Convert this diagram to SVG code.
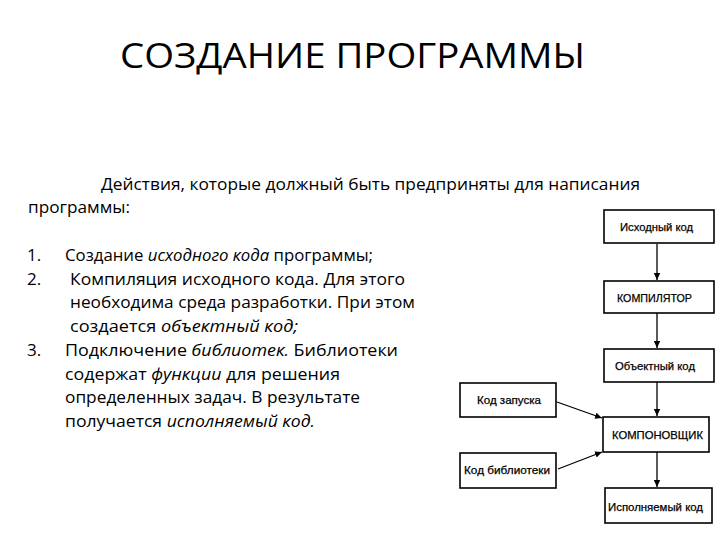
<svg xmlns="http://www.w3.org/2000/svg" width="720" height="540" viewBox="0 0 720 540">
<defs>
<marker id="ah" markerWidth="8" markerHeight="9" refX="7" refY="4" orient="auto" markerUnits="userSpaceOnUse">
<path d="M0,0.8 L7,4 L0,7.2 Z" fill="#000"/>
</marker>
<style>
.t{font-family:"Open Sans","Liberation Sans",sans-serif;fill:#000}
.b{font-family:"Liberation Sans",Arial,sans-serif;font-size:11.5px;fill:#000;stroke:#000;stroke-width:0.25;text-anchor:start}
.box{fill:#fff;stroke:#000;stroke-width:1.6}
.c{stroke:#000;stroke-width:1.3;fill:none;marker-end:url(#ah)}
.i{font-style:italic}
</style>
</defs>
<rect width="720" height="540" fill="#fff"/>
<g id="title"><text class="t" x="120" y="68" font-size="34" textLength="465" lengthAdjust="spacingAndGlyphs">СОЗДАНИЕ ПРОГРАММЫ</text></g>
<g id="body" font-size="17">
<text class="t" x="101" y="190" textLength="539" lengthAdjust="spacingAndGlyphs">Действия, которые должный быть предприняты для написания</text>
<text class="t" x="28" y="213" textLength="102" lengthAdjust="spacingAndGlyphs">программы:</text>
<text class="t" x="27" y="261">1.</text>
<text class="t" x="65" y="261" textLength="308" lengthAdjust="spacingAndGlyphs">Создание <tspan class="i">исходного кода</tspan> программы;</text>
<text class="t" x="27" y="285">2.</text>
<text class="t" x="70" y="285" textLength="335" lengthAdjust="spacingAndGlyphs">Компиляция исходного кода. Для этого</text>
<text class="t" x="70" y="308" textLength="345" lengthAdjust="spacingAndGlyphs">необходима среда разработки. При этом</text>
<text class="t" x="70" y="332" textLength="228" lengthAdjust="spacingAndGlyphs">создается <tspan class="i">объектный код;</tspan></text>
<text class="t" x="27" y="356">3.</text>
<text class="t" x="65" y="356" textLength="333" lengthAdjust="spacingAndGlyphs">Подключение <tspan class="i">библиотек.</tspan> Библиотеки</text>
<text class="t" x="65" y="380" textLength="275" lengthAdjust="spacingAndGlyphs">содержат <tspan class="i">функции</tspan> для решения</text>
<text class="t" x="65" y="403" textLength="295" lengthAdjust="spacingAndGlyphs">определенных задач. В результате</text>
<text class="t" x="65" y="427" textLength="250" lengthAdjust="spacingAndGlyphs">получается <tspan class="i">исполняемый код.</tspan></text>
</g>
<g id="connectors">
<line class="c" x1="657" y1="244" x2="657" y2="280"/>
<line class="c" x1="657" y1="313" x2="657" y2="348"/>
<line class="c" x1="657" y1="382" x2="657" y2="416"/>
<line class="c" x1="657" y1="452" x2="657" y2="487"/>
<line class="c" x1="557" y1="402" x2="602" y2="418"/>
<line class="c" x1="558" y1="469" x2="602" y2="452"/>
</g>
<g id="n-source"><rect class="box" x="604" y="210" width="110" height="33"/><text class="b" x="620" y="231" textLength="73" lengthAdjust="spacingAndGlyphs">Исходный код</text></g>
<g id="n-compiler"><rect class="box" x="604" y="281" width="110" height="32"/><text class="b" x="617" y="302" textLength="75" lengthAdjust="spacingAndGlyphs">КОМПИЛЯТОР</text></g>
<g id="n-object"><rect class="box" x="604" y="349" width="110" height="33"/><text class="b" x="615" y="370" textLength="80" lengthAdjust="spacingAndGlyphs">Объектный код</text></g>
<g id="n-linker"><rect class="box" x="603" y="417" width="106" height="35"/><text class="b" x="612" y="439" textLength="91" lengthAdjust="spacingAndGlyphs">КОМПОНОВЩИК</text></g>
<g id="n-exec"><rect class="box" x="605" y="488" width="107" height="35"/><text class="b" x="608" y="511" textLength="95" lengthAdjust="spacingAndGlyphs">Исполняемый код</text></g>
<g id="n-startup"><rect class="box" x="460" y="383" width="96" height="34"/><text class="b" x="477" y="404" textLength="64" lengthAdjust="spacingAndGlyphs">Код запуска</text></g>
<g id="n-lib"><rect class="box" x="460" y="453" width="96" height="35"/><text class="b" x="464" y="474" textLength="86" lengthAdjust="spacingAndGlyphs">Код библиотеки</text></g>
</svg>
